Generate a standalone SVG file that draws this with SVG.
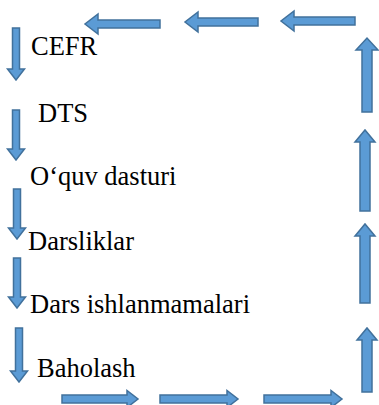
<svg xmlns="http://www.w3.org/2000/svg" width="379" height="405" viewBox="0 0 379 405">
<style>
.arr{fill:#5B9BD5;stroke:#41719C;stroke-width:1.5;stroke-linejoin:miter}
.t{font-family:"Liberation Serif","Times New Roman",serif;font-size:26.5px;fill:#000}
</style>
<rect width="379" height="405" fill="#fff"/>
<g id="connectors">
<path class="arr" d="M12.5,28 H19.5 V69 H24.5 L16,80 L7.5,69 H12.5 Z"/>
<path class="arr" d="M12.5,110 H19.5 V149 H24.5 L16,160 L7.5,149 H12.5 Z"/>
<path class="arr" d="M13.5,189 H20.5 V228 H25.5 L17,239 L8.5,228 H13.5 Z"/>
<path class="arr" d="M13.5,258 H20.5 V297 H25.5 L17,308 L8.5,297 H13.5 Z"/>
<path class="arr" d="M15.5,328 H22.5 V371 H27.5 L19,382 L10.5,371 H15.5 Z"/>
<path class="arr" d="M62,395 H127 V390.5 L138,399 L127,407.5 V403 H62 Z"/>
<path class="arr" d="M160,395 H227 V390.5 L238,399 L227,407.5 V403 H160 Z"/>
<path class="arr" d="M264,395 H331 V390.5 L342,399 L331,407.5 V403 H264 Z"/>
<path class="arr" d="M362,392 V340 H357 L367,328 L377,340 H372 V392 Z"/>
<path class="arr" d="M360,303 V236 H355 L365,224 L375,236 H370 V303 Z"/>
<path class="arr" d="M360,211 V142 H355 L365,130 L375,142 H370 V211 Z"/>
<path class="arr" d="M362,112 V50 H356 L367,38 L378,50 H372 V112 Z"/>
<path class="arr" d="M355,17 V25 H294 V31 L281,21 L294,11 V17 Z"/>
<path class="arr" d="M258,18 V26 H198 V32 L185,22 L198,12 V18 Z"/>
<path class="arr" d="M160,20 V28 H98 V34 L85,24 L98,14 V20 Z"/>
</g>
<g id="cefr"><text class="t" x="31" y="55">CEFR</text></g>
<g id="dts"><text class="t" x="38" y="122">DTS</text></g>
<g id="oquv"><text class="t" x="30" y="185">O‘quv dasturi</text></g>
<g id="darsliklar"><text class="t" x="28" y="250">Darsliklar</text></g>
<g id="ishlanma"><text class="t" x="30" y="313">Dars ishlanmamalari</text></g>
<g id="baholash"><text class="t" x="37" y="377">Baholash</text></g>
</svg>
